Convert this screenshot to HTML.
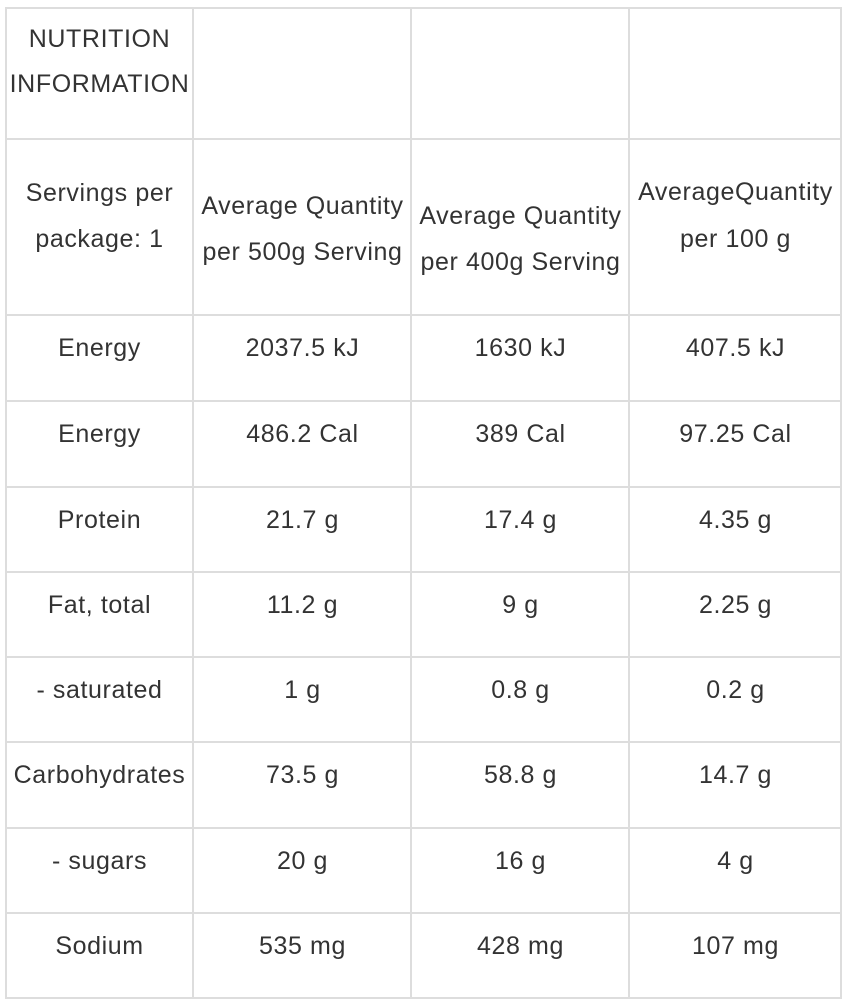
<!DOCTYPE html>
<html><head><meta charset="utf-8"><style>
body{margin:0;width:844px;height:1000px;background:#fff;position:relative;overflow:hidden;font-family:"Liberation Sans",sans-serif;color:#333;}
.h{position:absolute;height:2px;background:#ddd;left:5px;width:837px}
.v{position:absolute;width:2px;background:#ddd;top:7px;height:992px}
.t{position:absolute;height:46px;line-height:46px;font-size:25px;letter-spacing:0.6px;text-align:center;white-space:nowrap}
</style></head><body>
<div class="h" style="top:7px"></div><div class="h" style="top:138px"></div><div class="h" style="top:314px"></div>
<div class="h" style="top:400px"></div><div class="h" style="top:486px"></div><div class="h" style="top:571px"></div>
<div class="h" style="top:656px"></div><div class="h" style="top:741px"></div><div class="h" style="top:827px"></div>
<div class="h" style="top:912px"></div><div class="h" style="top:997px"></div>
<div class="v" style="left:5px"></div><div class="v" style="left:192px"></div><div class="v" style="left:410px"></div>
<div class="v" style="left:628px"></div><div class="v" style="left:840px"></div>
<div id="c"></div>
<script>
var cols=[[6,187],[194,217],[412,217],[630,211]];
var html='';
function t(c,y,s){html+='<div class="t" style="left:'+cols[c][0]+'px;width:'+cols[c][1]+'px;top:'+(y-22)+'px">'+s+'</div>';}
t(0,38,'NUTRITION');t(0,83,'INFORMATION');
t(0,192,'Servings per');t(0,238,'package: 1');
t(1,205,'Average Quantity');t(1,251,'per 500g Serving');
t(2,215,'Average Quantity');t(2,261,'per 400g Serving');
t(3,191,'AverageQuantity');t(3,238,'per 100 g');
var rows=[['Energy','2037.5 kJ','1630 kJ','407.5 kJ'],['Energy','486.2 Cal','389 Cal','97.25 Cal'],['Protein','21.7 g','17.4 g','4.35 g'],['Fat, total','11.2 g','9 g','2.25 g'],['- saturated','1 g','0.8 g','0.2 g'],['Carbohydrates','73.5 g','58.8 g','14.7 g'],['- sugars','20 g','16 g','4 g'],['Sodium','535 mg','428 mg','107 mg']];
var tops=[315,401,487,572,657,742,828,913];
rows.forEach(function(r,i){for(var c=0;c<4;c++)t(c,tops[i]+32,r[c]);});
document.getElementById('c').innerHTML=html;
</script>
</body></html>
